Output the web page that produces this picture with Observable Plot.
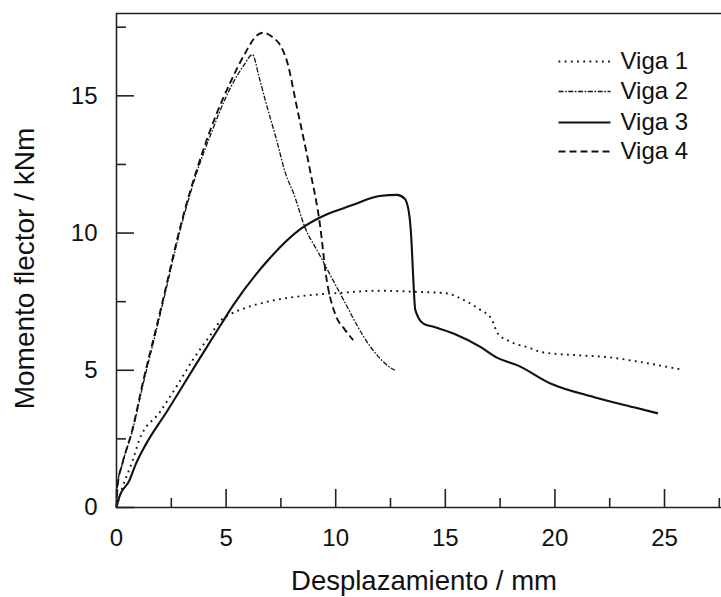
<!DOCTYPE html>
<html>
<head>
<meta charset="utf-8">
<script src="https://cdn.jsdelivr.net/npm/d3@7"></script>
<script src="https://cdn.jsdelivr.net/npm/@observablehq/plot@0.6"></script>
<style>
  html, body { margin: 0; padding: 0; background: #fff; }
</style>
</head>
<body>
<div id="chart"></div>
<script>
// ---- data ----
const seriesNames = ["Viga 1", "Viga 2", "Viga 3", "Viga 4"];

const viga1 = [[0,0],[0.12,0.35],[0.27,0.73],[0.73,1.7],[1.03,2.44],[2.0,3.5],[2.77,4.45],[3.5,5.4],[4.3,6.3],[4.8,6.85],[5.2,7.05],[5.8,7.25],[6.9,7.5],[8.4,7.7],[10.2,7.82],[12.0,7.9],[13.6,7.86],[15.1,7.8],[15.55,7.67],[16.1,7.45],[16.6,7.2],[17.1,6.88],[17.4,6.33],[17.85,6.09],[18.9,5.8],[19.4,5.66],[21.2,5.54],[22.4,5.48],[23.9,5.3],[25.75,5.03]];

const viga2 = [[0,0],[0.05,0.85],[0.27,1.6],[0.73,2.8],[1.23,4.55],[1.8,6.4],[2.1,7.4],[3.0,10.4],[3.7,12.3],[4.3,13.6],[5.2,15.3],[5.8,16.1],[6.2,16.5],[6.5,15.7],[6.8,14.8],[7.3,13.4],[7.7,12.2],[8.1,11.4],[8.6,10.2],[9.2,9.3],[9.8,8.4],[10.4,7.5],[11.0,6.6],[11.5,5.95],[12.0,5.45],[12.4,5.15],[12.7,5.0]];

const viga3 = [[0,0],[0.12,0.37],[0.58,0.97],[0.88,1.58],[1.34,2.3],[2.3,3.5],[3.5,5.05],[4.75,6.65],[5.35,7.4],[6.9,9.0],[8.4,10.15],[9.5,10.65],[10.7,11.0],[12.0,11.35],[12.8,11.39],[13.15,11.25],[13.35,10.7],[13.45,9.8],[13.52,8.65],[13.63,7.2],[14.0,6.7],[14.5,6.58],[15.4,6.33],[16.6,5.85],[17.38,5.45],[18.3,5.18],[19.8,4.52],[21.8,4.02],[23.6,3.65],[24.7,3.43]];

const viga4 = [[0,0],[0.05,0.8],[0.27,1.6],[0.73,2.85],[1.23,4.65],[1.8,6.5],[2.1,7.5],[3.0,10.5],[3.7,12.4],[4.3,13.8],[5.2,15.5],[5.9,16.6],[6.4,17.2],[6.7,17.3],[7.1,17.15],[7.5,16.8],[7.8,16.2],[8.2,14.7],[8.8,12.4],[9.3,10.2],[9.55,8.5],[10.0,7.0],[10.4,6.5],[10.8,6.1]];

const xMajorTicks = [0, 5, 10, 15, 20, 25];
const xMinorTicks = [2.5, 7.5, 12.5, 17.5, 22.5, 27.5];
const yMajorTicks = [0, 5, 10, 15];
const yMinorTicks = [2.5, 7.5, 12.5, 17.5];
const xLabel = "Desplazamiento / mm";
const yLabel = "Momento flector / kNm";

// ---- styles ----
const styles = {
  "Viga 1": {strokeWidth: 1.9, strokeDasharray: "1.8,4.4"},
  "Viga 2": {strokeWidth: 1.3, strokeDasharray: "5,1.6,1.6,1.6"},
  "Viga 3": {strokeWidth: 2.1, strokeDasharray: null},
  "Viga 4": {strokeWidth: 1.9, strokeDasharray: "7,4"}
};
const allSeries = [viga1, viga2, viga3, viga4];

const W = 721, H = 597;
const mL = 116, mR = 0, mT = 13, mB = 90;
const frameW = W - mL - mR, frameH = H - mT - mB;

const lineShape = {draw(context, l) { context.moveTo(0, 0); context.lineTo(0, -l); }};

const marks = [];
// curves
allSeries.forEach((pts, i) => {
  const st = styles[seriesNames[i]];
  marks.push(Plot.line(pts, {x: d => d[0], y: d => d[1], curve: "monotone-x", stroke: "#111",
    strokeWidth: st.strokeWidth, strokeDasharray: st.strokeDasharray, strokeLinecap: "butt", strokeLinejoin: "round"}));
});
// frame lines (left, bottom, top)
marks.push(Plot.ruleX([0], {stroke: "#222", strokeWidth: 1.6}));
marks.push(Plot.ruleY([0], {stroke: "#222", strokeWidth: 1.6}));
marks.push(Plot.ruleY([18], {stroke: "#222", strokeWidth: 1.6}));
// inward ticks
marks.push(Plot.tickX(xMajorTicks, {x: d => d, insetTop: frameH - 18, stroke: "#222", strokeWidth: 1.6}));
marks.push(Plot.tickX(xMinorTicks, {x: d => d, insetTop: frameH - 9, stroke: "#222", strokeWidth: 1.6}));
marks.push(Plot.tickY(yMajorTicks, {y: d => d, insetRight: frameW - 18, stroke: "#222", strokeWidth: 1.6}));
marks.push(Plot.tickY(yMinorTicks, {y: d => d, insetRight: frameW - 10, stroke: "#222", strokeWidth: 1.6}));
// axis titles
marks.push(Plot.text([xLabel], {frameAnchor: "bottom", textAnchor: "middle", lineAnchor: "bottom",
  dx: 5, dy: 82, fontSize: 27.5, fill: "#111"}));
marks.push(Plot.text([yLabel], {frameAnchor: "left", textAnchor: "middle", lineAnchor: "middle", rotate: -90,
  dx: -91, dy: 8, fontSize: 28, fill: "#111"}));
// legend
const legendRowDy = [48, 78, 109, 138];
seriesNames.forEach((name, i) => {
  const st = styles[name];
  marks.push(Plot.vector([name], {frameAnchor: "top-left", dx: 442, dy: legendRowDy[i], rotate: 90, length: 52,
    anchor: "start", shape: lineShape, stroke: "#111", strokeWidth: st.strokeWidth,
    strokeDasharray: st.strokeDasharray, strokeLinecap: "butt"}));
  marks.push(Plot.text([name], {frameAnchor: "top-left", dx: 504, dy: legendRowDy[i], textAnchor: "start",
    lineAnchor: "middle", fontSize: 24, fill: "#111"}));
});

const chart = Plot.plot({
  width: W, height: H,
  marginLeft: mL, marginRight: mR, marginTop: mT, marginBottom: mB,
  style: {fontFamily: "'Liberation Sans', Arial, sans-serif", fontSize: "24px", color: "#111", background: "#fff"},
  x: {domain: [0, 27.6], ticks: xMajorTicks, tickSize: 0, tickPadding: 21, label: null},
  y: {domain: [0, 18], ticks: yMajorTicks, tickSize: 0, tickPadding: 19, label: null},
  marks
});
document.getElementById("chart").appendChild(chart);
</script>
</body>
</html>
